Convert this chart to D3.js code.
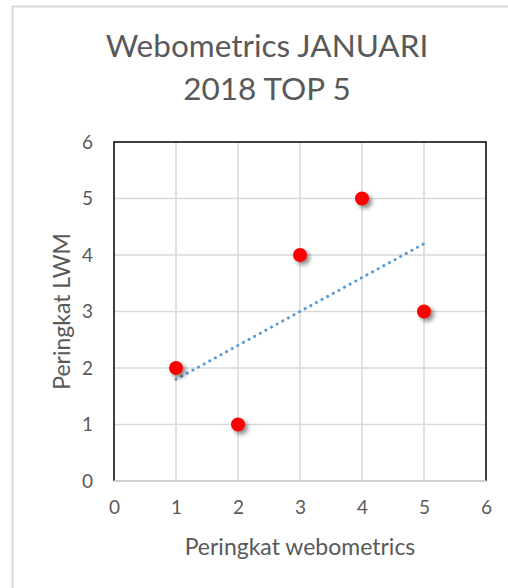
<!DOCTYPE html>
<html><head><meta charset="utf-8">
<script src="https://cdn.jsdelivr.net/npm/d3@7"></script>
<style>body{margin:0;background:#fff}svg{display:block}</style>
</head><body>
<script>
const xValues = [1, 2, 3, 4, 5];
const yValues = [2, 1, 4, 5, 3];
const tickValues = [0, 1, 2, 3, 4, 5, 6];
const titleLines = ["Webometrics JANUARI", "2018 TOP 5"];
const xTitle = "Peringkat webometrics";
const yTitle = "Peringkat LWM";

const W = 508, H = 588;
const svg = d3.select("body").append("svg").attr("width", W).attr("height", H);
const font = "Lato, 'Open Sans', sans-serif";
const txt = "#595959";

// chart frame
svg.append("path").attr("d", `M12.5,${H+5} V6.5 H${W+5}`).attr("fill","none").attr("stroke","#d9d9d9").attr("stroke-width",2);

const x = d3.scaleLinear().domain([0,6]).range([114,486]);
const y = d3.scaleLinear().domain([0,6]).range([481,142]);

// gridlines
const g = svg.append("g");
g.selectAll(".vg").data(tickValues.slice(1,-1)).join("line")
  .attr("x1",d=>x(d)).attr("x2",d=>x(d)).attr("y1",y(6)).attr("y2",y(0))
  .attr("stroke","#d9d9d9").attr("stroke-width",1.5);
g.selectAll(".hg").data(tickValues.slice(1,-1)).join("line")
  .attr("y1",d=>y(d)).attr("y2",d=>y(d)).attr("x1",x(0)).attr("x2",x(6))
  .attr("stroke","#d9d9d9").attr("stroke-width",1.5);

// plot border: top, left, right black
svg.append("path").attr("d",`M${x(0)},${y(0)} V${y(6)} H${x(6)} V${y(0)}`)
  .attr("fill","none").attr("stroke","#000").attr("stroke-width",1.5);
// bottom axis gray
svg.append("line").attr("x1",x(0)).attr("x2",x(6)).attr("y1",y(0)).attr("y2",y(0))
  .attr("stroke","#d0d0d0").attr("stroke-width",2);

// axes labels via d3 axes
const xAxis = svg.append("g").attr("transform",`translate(0,${y(0)})`)
  .call(d3.axisBottom(x).tickValues(tickValues).tickSize(0).tickPadding(20).tickFormat(d3.format("d")));
const yAxis = svg.append("g").attr("transform",`translate(${x(0)},0)`)
  .call(d3.axisLeft(y).tickValues(tickValues).tickSize(0).tickPadding(21).tickFormat(d3.format("d")));
[xAxis,yAxis].forEach(a=>{
  a.select(".domain").remove();
  a.selectAll("text").attr("fill",txt).style("font-family",font).style("font-size","19px");
});

// trendline (least squares)
const mx = d3.mean(xValues), my = d3.mean(yValues);
const slope = d3.sum(xValues.map((v,i)=>(v-mx)*(yValues[i]-my))) / d3.sum(xValues.map(v=>(v-mx)**2));
const icpt = my - slope*mx;
const xr = d3.extent(xValues);
svg.append("line")
  .attr("x1",x(xr[0])).attr("y1",y(icpt+slope*xr[0]))
  .attr("x2",x(xr[1])).attr("y2",y(icpt+slope*xr[1]))
  .attr("stroke","#5b9bd5").attr("stroke-width",3)
  .attr("stroke-dasharray","0.1 6.3").attr("stroke-linecap","round");

// shadows
const defs = svg.append("defs");
const f = defs.append("filter").attr("id","sh").attr("x","-100%").attr("y","-100%").attr("width","300%").attr("height","300%");
f.append("feGaussianBlur").attr("stdDeviation",2.2);

svg.append("g").selectAll("circle").data(xValues).join("circle")
  .attr("cx",(d)=>x(d)+3).attr("cy",(d,i)=>y(yValues[i])+3).attr("r",7)
  .attr("fill","rgba(0,0,0,0.45)").attr("filter","url(#sh)");
svg.append("g").selectAll("circle").data(xValues).join("circle")
  .attr("cx",(d)=>x(d)).attr("cy",(d,i)=>y(yValues[i])).attr("r",7)
  .attr("fill","#ff0000");

// titles
svg.append("g").selectAll("text").data(titleLines).join("text")
  .attr("x",267).attr("y",(d,i)=>57+i*43).attr("text-anchor","middle")
  .attr("fill",txt).style("font-family",font).style("font-size","31.5px").text(d=>d);

svg.append("text").attr("x",(x(0)+x(6))/2).attr("y",555).attr("text-anchor","middle")
  .attr("fill",txt).style("font-family",font).style("font-size","23px").text(xTitle);
svg.append("text").attr("transform",`translate(70,${(y(0)+y(6))/2}) rotate(-90)`).attr("text-anchor","middle")
  .attr("fill",txt).style("font-family",font).style("font-size","23px").text(yTitle);
</script>
</body></html>
